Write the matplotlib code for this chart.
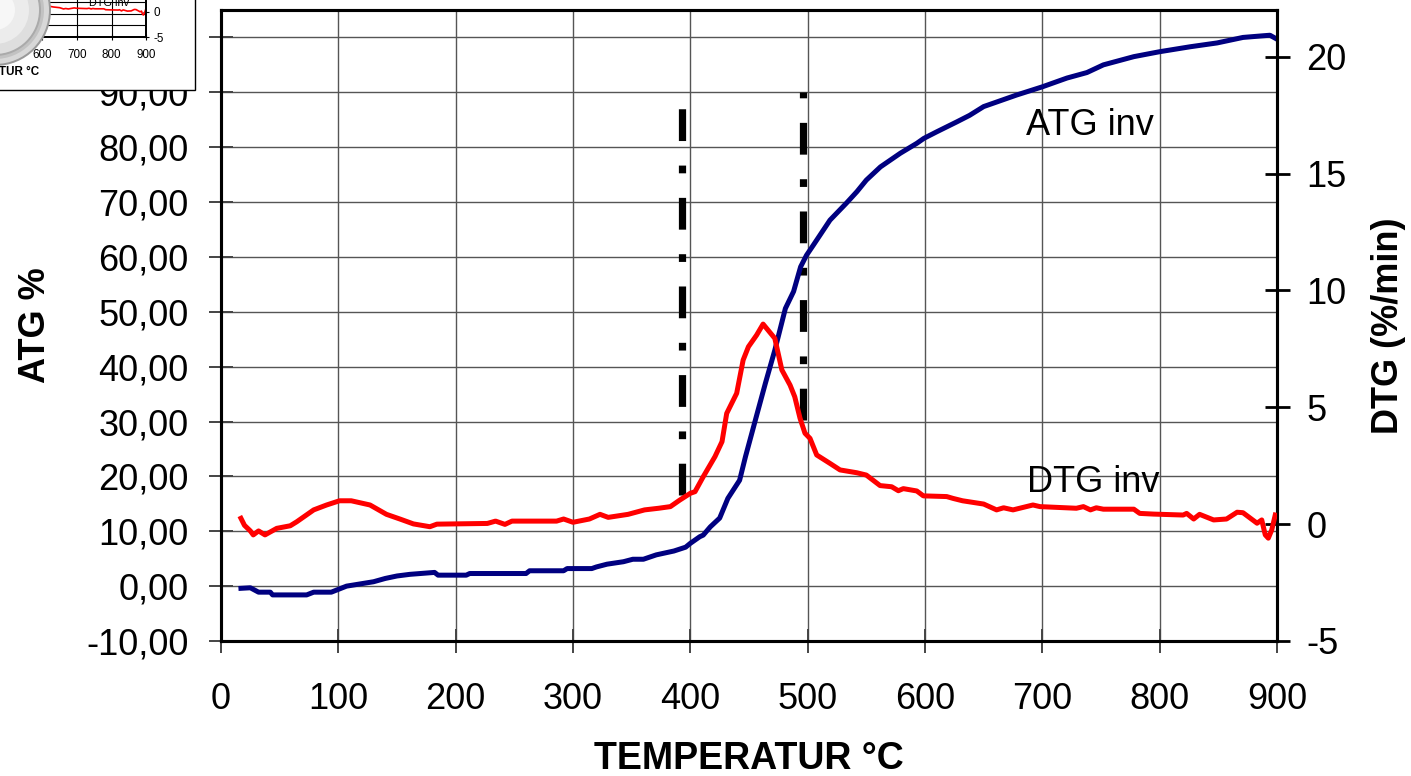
import matplotlib
matplotlib.use("Agg")
import matplotlib.pyplot as plt
from matplotlib.patches import Rectangle, Ellipse

plt.rcParams['font.family'] = ['Liberation Sans', 'DejaVu Sans']
plt.rcParams['axes.unicode_minus'] = False

# ATG curve (left axis, %)
temp_atg = [17, 25, 32, 42, 44, 73, 79, 94, 107, 130, 140, 150, 161, 182, 185,
            209, 212, 260, 263, 292, 295, 316, 320, 329, 343, 351, 360, 371, 386,
            396, 400, 408, 411, 417, 425, 432, 442, 447, 457, 464, 472, 481, 488,
            494, 499, 505, 519, 533, 542, 550, 562, 579, 593, 599, 610, 627, 638,
            650, 678, 700, 721, 738, 752, 778, 800, 826, 849, 871, 888, 894, 899]
atg = [-0.4, -0.3, -1.1, -1.1, -1.6, -1.6, -1.1, -1.1, 0.0, 0.8, 1.4, 1.85, 2.15, 2.5, 2.0,
       2.0, 2.3, 2.3, 2.8, 2.8, 3.2, 3.2, 3.5, 4.0, 4.45, 4.9, 4.9, 5.7, 6.4,
       7.1, 7.8, 9.0, 9.3, 10.8, 12.4, 16.0, 19.3, 23.6, 31.5, 37.0, 43.0, 50.6, 53.7,
       58.2, 60.3, 62.2, 66.7, 69.8, 71.9, 74.0, 76.4, 78.9, 80.7, 81.6, 82.8, 84.6, 85.8,
       87.4, 89.5, 91.0, 92.6, 93.6, 95.0, 96.5, 97.4, 98.3, 99.0, 100.0, 100.3, 100.4, 99.8]

# DTG curve (right axis, %/min)
temp_dtg = [17, 20, 25, 27.5, 32, 37.5, 47.5, 59, 64.5, 79, 90, 101, 111, 127, 141,
            153, 164, 178, 184, 227, 234, 242, 248, 286, 292, 300, 314, 323, 330,
            347, 361, 373, 383, 391, 400, 404, 411, 421, 427, 431, 439.5, 445, 449.5,
            456.5, 462, 472, 478, 485, 489, 493.5, 497.7, 502, 507.7, 519, 527.6,
            541.8, 550, 561.7, 571.6, 577.3, 581.5, 593, 598.6, 618.5, 624, 632, 650,
            661, 667, 675, 692, 698, 729, 735, 741, 746, 752, 778, 783, 795, 820,
            823, 829, 834, 846, 857, 866, 871, 883, 887, 890, 892.6, 895.5, 898.5]
dtg = [0.25, -0.05, -0.29, -0.46, -0.29, -0.46, -0.18, -0.07, 0.10, 0.61, 0.82, 1.0, 1.0, 0.82, 0.42,
       0.21, 0.01, -0.11, 0.0, 0.03, 0.13, -0.01, 0.13, 0.13, 0.22, 0.08, 0.22, 0.42, 0.29,
       0.42, 0.61, 0.68, 0.75, 1.03, 1.32, 1.39, 2.03, 2.89, 3.53, 4.74, 5.60, 7.02, 7.59,
       8.09, 8.56, 7.95, 6.60, 5.95, 5.45, 4.53, 3.89, 3.67, 2.96, 2.60, 2.32,
       2.20, 2.10, 1.65, 1.60, 1.43, 1.52, 1.42, 1.21, 1.18, 1.10, 1.0, 0.86,
       0.61, 0.70, 0.61, 0.82, 0.75, 0.68, 0.75, 0.61, 0.70, 0.64, 0.64, 0.46, 0.43, 0.39,
       0.46, 0.22, 0.42, 0.18, 0.22, 0.51, 0.49, 0.04, 0.18, -0.46, -0.6, -0.25, 0.39]

x_ticks = [0, 100, 200, 300, 400, 500, 600, 700, 800, 900]
atg_ticks = [-10, 0, 10, 20, 30, 40, 50, 60, 70, 80, 90, 100]
atg_labels = ['-10,00', '0,00', '10,00', '20,00', '30,00', '40,00', '50,00',
              '60,00', '70,00', '80,00', '90,00', '']
dtg_ticks = [-5, 0, 5, 10, 15, 20]

# vertical dash-dot markers: temperature, ATG bottom, ATG top
marker_x = [392.9, 495.7]
marker_bottom = [16.6, 30.3]
marker_top = [91.0, 90.1]

W, H = 1411, 776
NAVY = '#000080'
RED = '#ff0000'


def box(left, top, right, bottom):
    """pixel box (origin top-left) -> figure fraction rect"""
    return [left / W, 1 - bottom / H, (right - left) / W, (bottom - top) / H]


fig = plt.figure(figsize=(W / 100, H / 100), dpi=100)

ax = fig.add_axes(box(221, 10, 1277, 641))
ax2 = ax.twinx()

ax.set_xlim(0, 900)
ax.set_ylim(-10, 105)
ax2.set_ylim(-5, 22)

ax.set_axisbelow(True)
ax.grid(True, color='#555555', lw=1.0)

for x, y0, y1 in zip(marker_x, marker_bottom, marker_top):
    ax.plot([x, x], [y0, y1], color='black', lw=5.2,
            linestyle=(0, (4.4, 3.4, 1.07, 3.4)), zorder=2)

ax.plot(temp_atg, atg, color=NAVY, lw=3.6, zorder=3)
ax2.plot(temp_dtg, dtg, color=RED, lw=3.6, zorder=3)

ax.set_xticks(x_ticks)
ax.set_yticks(atg_ticks)
ax.set_yticklabels(atg_labels)
ax2.set_yticks(dtg_ticks)

ax.tick_params(axis='both', direction='inout', length=17, width=1.4,
               labelsize=26, color='#444444')
ax.tick_params(axis='x', pad=21)
ax.tick_params(axis='y', pad=15)
ax2.tick_params(axis='y', direction='inout', length=18, width=2,
                labelsize=26, pad=12)

for a in (ax, ax2):
    for s in a.spines.values():
        s.set_linewidth(2.2)

ax.set_xlabel('TEMPERATUR °C', fontsize=27, fontweight='bold', labelpad=17)
ax.set_ylabel('ATG %', fontsize=26, fontweight='bold', labelpad=24)
ax2.set_ylabel('DTG (%/min)', fontsize=26, fontweight='bold', labelpad=18)

ax.text(686, 82.2, 'ATG inv', fontsize=26, va='baseline')
ax.text(686.7, 17.2, 'DTG inv', fontsize=26, va='baseline')

# small pasted thumbnail in the top-left corner
fig.add_artist(Rectangle((-5 / W, 1 - 90 / H), 200 / W, 95 / H,
                         transform=fig.transFigure, fc='white', ec='black',
                         lw=1.0, zorder=4))

mini = fig.add_axes(box(-164.5, -98, 146, 37))
mini2 = mini.twinx()
mini.set_zorder(5)
mini2.set_zorder(5.1)
mini.set_xlim(0, 900)
mini.set_ylim(-10, 105)
mini2.set_ylim(-5, 22)
mini.grid(True, color='black', lw=0.8)
mini.set_axisbelow(True)
mini.plot(temp_atg, atg, color=NAVY, lw=1.0)
mini2.plot(temp_dtg, dtg, color=RED, lw=1.2)
mini.set_xticks(x_ticks)
mini.set_yticks(atg_ticks)
mini.set_yticklabels([])
mini2.set_yticks(dtg_ticks)
mini.tick_params(axis='both', direction='inout', length=5, width=0.8,
                 labelsize=8.4, pad=6)
mini2.tick_params(axis='y', direction='inout', length=5, width=0.8,
                  labelsize=8.4, pad=3)
for a in (mini, mini2):
    for s in a.spines.values():
        s.set_linewidth(1.3)
mini.set_xlabel('TEMPERATUR °C', fontsize=8.4, fontweight='bold', labelpad=4)
mini.text(735, 16.4, 'DTG inv', fontsize=7.8, va='baseline')

# glossy round button over the thumbnail
for r, fc in [(56, '#9a9a9a'), (54, '#d8d8d8'), (49, '#c2c2c2'),
              (46, '#aaaaaa'), (44, '#dedede'), (34, '#ececec'), (20, '#f7f7f7')]:
    fig.add_artist(Ellipse((-5 / W, 1 - 10 / H), 2 * r / W, 2 * r / H,
                           transform=fig.transFigure, fc=fc, ec='none',
                           zorder=6))

fig.savefig('out.png', dpi=100)
